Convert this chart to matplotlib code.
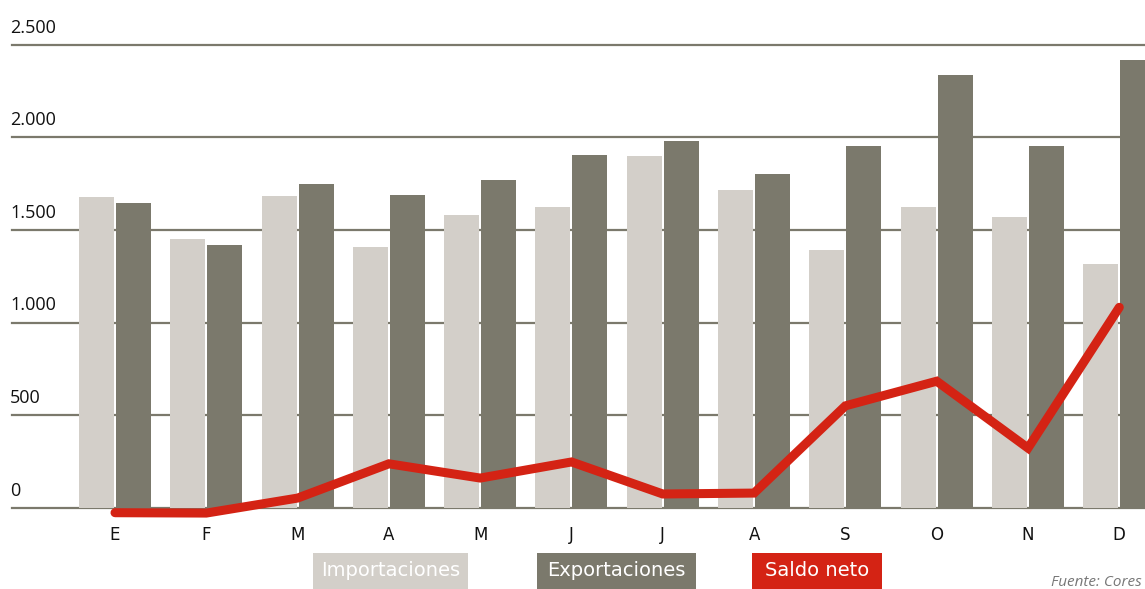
import matplotlib
matplotlib.use("Agg")
import matplotlib.pyplot as plt
from matplotlib.patches import Rectangle
from matplotlib.transforms import blended_transform_factory, offset_copy

months = ["E", "F", "M", "A", "M", "J", "J", "A", "S", "O", "N", "D"]
importaciones = [1678, 1451, 1683, 1407, 1579, 1622, 1898, 1715, 1391, 1624, 1569, 1316]
exportaciones = [1645, 1418, 1748, 1688, 1768, 1903, 1979, 1801, 1952, 2336, 1952, 2418]
saldo_neto = [-27, -29, 52, 237, 160, 247, 74, 79, 550, 683, 322, 1082]
y_ticks = [0, 500, 1000, 1500, 2000, 2500]
y_tick_labels = ["0", "500", "1.000", "1.500", "2.000", "2.500"]
legend_labels = ["Importaciones", "Exportaciones", "Saldo neto"]
source_text = "Fuente: Cores"

C_IMP = "#d3cfc9"
C_EXP = "#7b796c"
C_RED = "#d42314"
C_GRID = "#7b796c"

W, H = 1145, 589
fig = plt.figure(figsize=(W / 100, H / 100), dpi=100)

top_px, bot_px, left_px = 44.7, 520.0, 12.0
ax = fig.add_axes([left_px / W, 1 - bot_px / H, 1 - left_px / W, (bot_px - top_px) / H])
ppu = (507.7 - 44.7) / 2500.0
ax.set_ylim((507.7 - bot_px) / ppu, 2500)
spacing = 91.3
c0 = 115.0
ax.set_xlim((left_px - c0) / spacing, (W - c0) / spacing)

for s in ax.spines.values():
    s.set_visible(False)

for v in y_ticks:
    ax.axhline(v, color=C_GRID, lw=1.6, zorder=1, clip_on=False)

x = list(range(len(months)))
bw = 35 / spacing
gap = 1.0 / spacing
ax.bar([i - gap - bw for i in x], importaciones, width=bw, align="edge", color=C_IMP, zorder=2)
ax.bar([i + gap for i in x], exportaciones, width=bw, align="edge", color=C_EXP, zorder=2)
ax.plot(x, saldo_neto, color=C_RED, lw=6.5, solid_capstyle="round",
        solid_joinstyle="miter", zorder=3, clip_on=False)

ax.set_yticks([])
ax.set_xticks(x)
ax.set_xticklabels(months, family=["DejaVu Sans"], fontsize=12, color="#111111")
ax.tick_params(axis="x", length=0, pad=4)

trans = blended_transform_factory(fig.transFigure, ax.transData)
trans = offset_copy(trans, fig=fig, x=0, y=17, units="dots")
for v, lab in zip(y_ticks, y_tick_labels):
    ax.text(10 / W, v, lab, transform=trans, ha="left", va="center",
            fontsize=13, family=["Open Sans", "DejaVu Sans"], color="#111111")

boxes = [(313, 468, C_IMP), (537, 696, C_EXP), (752, 882, C_RED)]
for (x0, x1, col), lab in zip(boxes, legend_labels):
    fig.add_artist(Rectangle((x0 / W, 0), (x1 - x0) / W, 36 / H,
                             transform=fig.transFigure, color=col, lw=0))
    fig.text((x0 + x1) / 2 / W, 19 / H, lab, ha="center", va="center",
             color="white", fontsize=14, family=["DejaVu Sans"])

fig.text(1142 / W, 7 / H, source_text, ha="right", va="center", fontsize=11,
         style="italic", color="#777777", family=["Open Sans", "DejaVu Sans"])

fig.savefig("out.png", dpi=100)
